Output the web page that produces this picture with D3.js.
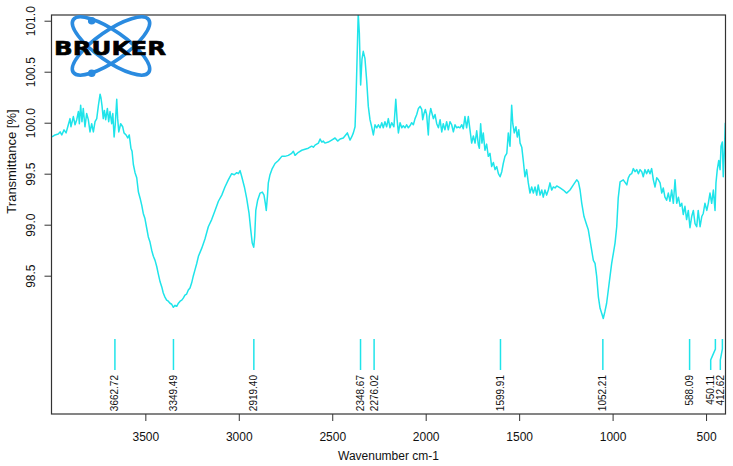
<!DOCTYPE html>
<html>
<head>
<meta charset="utf-8">
<script src="https://cdn.jsdelivr.net/npm/d3@7"></script>
<style>
  body { margin: 0; background: #fff; }
  svg { display: block; font-family: "Liberation Sans", Arial, sans-serif; }
</style>
</head>
<body>
<div id="chart-area"><svg></svg></div>
<script>
const wavenumbers = [
  3999, 3983, 3966, 3956, 3947, 3935, 3924, 3912, 3903, 3898,
  3885, 3876, 3867, 3858, 3853, 3846, 3839, 3832, 3823, 3814,
  3805, 3796, 3787, 3778, 3769, 3760, 3751, 3742, 3737, 3732,
  3725, 3719, 3712, 3703, 3696, 3689, 3680, 3674, 3667, 3661,
  3653, 3648, 3642, 3632, 3621, 3614, 3603, 3594, 3586, 3577,
  3571, 3564, 3555, 3546, 3537, 3528, 3519, 3511, 3502, 3493,
  3484, 3475, 3466, 3457, 3448, 3439, 3431, 3421, 3412, 3404,
  3395, 3386, 3377, 3368, 3359, 3350, 3341, 3332, 3323, 3314,
  3305, 3297, 3288, 3279, 3270, 3261, 3252, 3243, 3234, 3225,
  3216, 3198, 3181, 3163, 3145, 3127, 3109, 3091, 3074, 3056,
  3038, 3024, 3011, 3002, 2993, 2984, 2970, 2958, 2945, 2936,
  2928, 2920, 2915, 2909, 2899, 2886, 2874, 2865, 2858, 2853,
  2847, 2842, 2833, 2821, 2806, 2788, 2770, 2753, 2735, 2717,
  2708, 2699, 2681, 2663, 2646, 2628, 2610, 2601, 2592, 2574,
  2565, 2556, 2548, 2539, 2521, 2503, 2485, 2471, 2458, 2441,
  2419, 2405, 2396, 2387, 2378, 2373, 2366, 2361, 2355, 2348,
  2341, 2334, 2325, 2316, 2307, 2298, 2289, 2280, 2271, 2262,
  2253, 2244, 2235, 2227, 2218, 2209, 2200, 2191, 2182, 2170,
  2160, 2153, 2146, 2137, 2128, 2120, 2111, 2102, 2093, 2084,
  2075, 2066, 2057, 2048, 2039, 2030, 2021, 2016, 2009, 2002,
  1995, 1986, 1981, 1973, 1966, 1959, 1950, 1941, 1932, 1923,
  1914, 1906, 1897, 1888, 1879, 1870, 1861, 1852, 1843, 1834,
  1826, 1817, 1807, 1799, 1790, 1781, 1772, 1763, 1754, 1745,
  1736, 1727, 1718, 1713, 1706, 1699, 1692, 1683, 1674, 1665,
  1656, 1647, 1638, 1629, 1620, 1611, 1602, 1593, 1585, 1576,
  1566, 1558, 1549, 1540, 1534, 1526, 1517, 1510, 1502, 1495,
  1486, 1478, 1469, 1460, 1451, 1442, 1433, 1424, 1415, 1406,
  1398, 1388, 1379, 1371, 1362, 1353, 1344, 1335, 1326, 1317,
  1308, 1299, 1281, 1264, 1246, 1228, 1210, 1192, 1183, 1174,
  1165, 1153, 1139, 1130, 1121, 1112, 1103, 1094, 1085, 1076,
  1067, 1058, 1050, 1041, 1032, 1023, 1014, 1005, 996, 987,
  978, 970, 960, 943, 924, 916, 907, 898, 889, 880,
  871, 862, 853, 844, 836, 827, 818, 809, 800, 791,
  782, 773, 764, 755, 746, 737, 729, 720, 711, 702,
  693, 684, 675, 666, 657, 648, 639, 630, 622, 613,
  604, 595, 586, 577, 568, 559, 550, 542, 532, 523,
  515, 506, 496, 488, 479, 470, 461, 452, 447, 440,
  432, 425, 420, 413, 408, 402, 397
];

const transmittance = [
  99.86, 99.88, 99.89, 99.91, 99.88, 99.93, 99.90, 99.98, 100.04, 99.96,
  100.06, 99.98, 100.03, 100.11, 99.99, 100.17, 100.01, 100.14, 99.96, 100.09,
  100.03, 99.91, 99.99, 99.91, 100.01, 100.04, 100.17, 100.28, 100.24, 100.17,
  100.04, 100.12, 100.03, 100.14, 100.01, 100.11, 99.99, 100.09, 99.86, 99.98,
  100.23, 100.04, 99.91, 99.99, 99.96, 99.90, 99.88, 99.85, 99.88, 99.75,
  99.72, 99.59, 99.51, 99.46, 99.32, 99.26, 99.19, 99.11, 99.06, 98.97,
  98.88, 98.83, 98.75, 98.69, 98.65, 98.59, 98.52, 98.44, 98.39, 98.33,
  98.29, 98.26, 98.25, 98.23, 98.22, 98.19, 98.21, 98.20, 98.23, 98.25,
  98.26, 98.28, 98.31, 98.32, 98.36, 98.38, 98.43, 98.50, 98.56, 98.62,
  98.69, 98.77, 98.86, 98.98, 99.05, 99.14, 99.23, 99.29, 99.37, 99.44,
  99.50, 99.49, 99.51, 99.50, 99.53, 99.47, 99.37, 99.26, 99.11, 98.95,
  98.82, 98.78, 98.88, 99.14, 99.24, 99.31, 99.32, 99.29, 99.21, 99.14,
  99.27, 99.41, 99.49, 99.55, 99.60, 99.63, 99.67, 99.67, 99.68, 99.70,
  99.72, 99.68, 99.71, 99.73, 99.74, 99.75, 99.77, 99.76, 99.78, 99.80,
  99.84, 99.81, 99.82, 99.80, 99.81, 99.83, 99.85, 99.82, 99.84, 99.85,
  99.90, 99.83, 99.86, 99.90, 99.96, 100.22, 100.71, 101.07, 100.88, 100.37,
  100.62, 100.70, 100.63, 100.42, 100.16, 100.03, 99.96, 99.88, 99.98, 99.95,
  99.98, 99.95, 100.00, 99.95, 100.01, 99.96, 100.04, 99.95, 100.00, 99.96,
  100.23, 100.03, 99.90, 100.00, 99.95, 99.97, 99.95, 99.98, 99.95, 99.97,
  100.00, 99.98, 100.04, 100.08, 100.14, 100.16, 100.13, 100.03, 100.09, 100.13,
  100.08, 99.88, 100.06, 100.14, 100.09, 100.04, 100.08, 99.99, 99.95, 100.03,
  99.91, 99.99, 99.93, 100.01, 99.93, 100.01, 99.98, 99.91, 99.98, 99.95,
  99.96, 99.95, 99.98, 99.94, 100.06, 99.95, 100.06, 99.93, 99.80, 99.87,
  99.80, 99.92, 99.78, 99.75, 99.99, 99.80, 99.90, 99.73, 99.79, 99.67,
  99.70, 99.57, 99.61, 99.54, 99.57, 99.50, 99.47, 99.52, 99.60, 99.67,
  99.70, 99.90, 99.77, 100.17, 99.99, 99.90, 99.96, 99.86, 99.93, 99.80,
  99.76, 99.63, 99.47, 99.54, 99.41, 99.31, 99.37, 99.31, 99.37, 99.29,
  99.39, 99.29, 99.34, 99.27, 99.34, 99.29, 99.34, 99.41, 99.34, 99.37,
  99.36, 99.38, 99.36, 99.34, 99.31, 99.34, 99.39, 99.44, 99.42, 99.34,
  99.21, 99.08, 99.00, 98.95, 98.85, 98.75, 98.65, 98.62, 98.49, 98.29,
  98.18, 98.13, 98.08, 98.15, 98.23, 98.36, 98.49, 98.62, 98.72, 98.82,
  98.98, 99.26, 99.42, 99.44, 99.39, 99.46, 99.49, 99.50, 99.55, 99.52,
  99.54, 99.50, 99.54, 99.52, 99.47, 99.54, 99.50, 99.54, 99.50, 99.55,
  99.44, 99.37, 99.46, 99.44, 99.41, 99.31, 99.36, 99.27, 99.24, 99.31,
  99.23, 99.34, 99.21, 99.44, 99.21, 99.27, 99.18, 99.21, 99.10, 99.18,
  99.05, 99.14, 98.97, 99.08, 99.14, 99.01, 98.98, 99.14, 98.98, 99.08,
  99.11, 99.21, 99.14, 99.21, 99.31, 99.21, 99.34, 99.14, 99.41, 99.54,
  99.63, 99.54, 99.77, 99.81, 99.47, 99.73, 100.00
];

const peaks = [3662.72, 3349.49, 2919.40, 2348.67, 2276.02, 1599.91, 1052.21, 588.09, 450.11, 412.62];
const xTicks = [3500, 3000, 2500, 2000, 1500, 1000, 500];
const yTicks = [98.5, 99.0, 99.5, 100.0, 100.5, 101.0];

const chartSize = { width: 733, height: 466 };
const plot = { left: 51.5, right: 725.5, top: 15, bottom: 414 };
const curveColour = "#1fe4ea";
const axisColour = "#333";

const x = d3.scaleLinear().domain([4002, 396]).range([plot.left, plot.right]);
const y = d3.scaleLinear().domain([97.144, 101.056]).range([plot.bottom, plot.top]);

const svg = d3
  .select("#chart-area svg")
  .attr("width", chartSize.width)
  .attr("height", chartSize.height);

svg.append("defs")
  .append("clipPath")
  .attr("id", "plot-clip")
  .append("rect")
  .attr("x", plot.left)
  .attr("y", plot.top)
  .attr("width", plot.right - plot.left)
  .attr("height", plot.bottom - plot.top);

const spectrum = wavenumbers.map((w, i) => ({ w, t: transmittance[i] }));

svg.append("path")
  .datum(spectrum)
  .attr("clip-path", "url(#plot-clip)")
  .attr("fill", "none")
  .attr("stroke", curveColour)
  .attr("stroke-width", 1.5)
  .attr("stroke-linejoin", "round")
  .attr("d", d3.line().x(d => x(d.w)).y(d => y(d.t)));

// peak markers, labels pushed left when they would collide at the right edge
const labelX = peaks.map(p => x(p));
let limit = plot.right - 5.2;
for (let i = peaks.length - 1; i >= 0; i--) {
  labelX[i] = Math.min(labelX[i], limit);
  limit = labelX[i] - 9.6;
}

const markers = svg.append("g").attr("class", "peaks");
peaks.forEach((p, i) => {
  const px = x(p);
  const lx = labelX[i];
  const d = Math.abs(px - lx) < 0.5
    ? `M${px},339V370`
    : `M${px},339V349L${lx},360V370`;
  markers.append("path")
    .attr("d", d)
    .attr("fill", "none")
    .attr("stroke", curveColour)
    .attr("stroke-width", 1.5);
  markers.append("text")
    .attr("transform", `translate(${lx},375) rotate(-90)`)
    .attr("text-anchor", "end")
    .attr("dy", "0.35em")
    .attr("font-size", 10)
    .attr("fill", "#111")
    .text(p.toFixed(2));
});

const xAxis = svg.append("g")
  .attr("transform", `translate(0,${plot.bottom})`)
  .call(d3.axisBottom(x).tickValues(xTicks).tickSize(7).tickPadding(11).tickSizeOuter(0).tickFormat(d3.format("d")));

const yAxis = svg.append("g")
  .attr("transform", `translate(${plot.left},0)`)
  .call(d3.axisLeft(y).tickValues(yTicks).tickSize(7).tickSizeOuter(0).tickFormat(d3.format(".1f")));

[xAxis, yAxis].forEach(a => {
  a.select(".domain").remove();
  a.selectAll("line").attr("stroke", axisColour);
  a.selectAll("text").attr("font-size", 12).attr("fill", "#111").attr("font-family", "Liberation Sans, Arial, sans-serif");
});

yAxis.selectAll("text")
  .attr("x", null)
  .attr("dy", null)
  .attr("text-anchor", "middle")
  .attr("transform", "translate(-16.5,0) rotate(-90)");

svg.append("rect")
  .attr("x", plot.left)
  .attr("y", plot.top)
  .attr("width", plot.right - plot.left)
  .attr("height", plot.bottom - plot.top)
  .attr("fill", "none")
  .attr("stroke", axisColour)
  .attr("stroke-width", 1.2);

svg.append("text")
  .attr("x", (plot.left + plot.right) / 2)
  .attr("y", 460)
  .attr("text-anchor", "middle")
  .attr("font-size", 12)
  .attr("fill", "#111")
  .text("Wavenumber cm-1");

svg.append("text")
  .attr("transform", "translate(15.5,161.5) rotate(-90)")
  .attr("text-anchor", "middle")
  .attr("font-size", 13)
  .attr("fill", "#111")
  .text("Transmittance [%]");

// Bruker logo
const logo = svg.append("g").attr("class", "logo");
[35, -35].forEach(angle => {
  logo.append("ellipse")
    .attr("cx", 0)
    .attr("cy", 0)
    .attr("rx", 46)
    .attr("ry", 15)
    .attr("transform", `translate(111,46) rotate(${angle})`)
    .attr("fill", "none")
    .attr("stroke", "#2a8be0")
    .attr("stroke-width", 3.6);
});
[[91.7, 20.7], [91.7, 73.3]].forEach(([cx, cy]) => {
  logo.append("circle").attr("cx", cx).attr("cy", cy).attr("r", 3.8).attr("fill", "#2a8be0");
});
logo.append("text")
  .attr("x", 54)
  .attr("y", 55)
  .attr("font-family", "DejaVu Sans, sans-serif")
  .attr("font-weight", "bold")
  .attr("font-size", 20)
  .attr("textLength", 112)
  .attr("lengthAdjust", "spacingAndGlyphs")
  .attr("fill", "#000")
  .attr("stroke", "#000")
  .attr("stroke-width", 0.6)
  .text("BRUKER");
</script>
</body>
</html>
